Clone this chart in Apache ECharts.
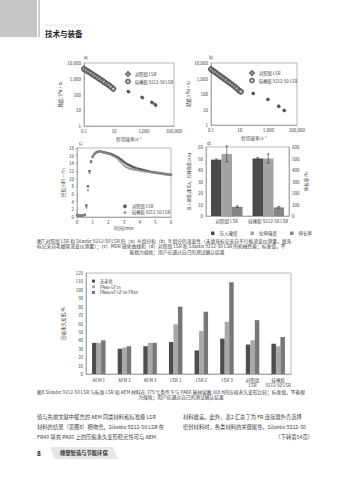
<!DOCTYPE html>
<html><head><meta charset="utf-8">
<script src="https://cdn.jsdelivr.net/npm/echarts@6/dist/echarts.min.js"></script>
<style>html,body{margin:0;padding:0;background:#fff}#c{width:356px;height:480px}</style>
</head><body><div id="c"></div><script>
// ---------- Fig 7a : viscosity, component A ----------
const aLowShear = [0.1,0.14,0.2,0.28,0.4,0.56,0.8,1.1,1.6,2.2,3.2,4.5,6.3,9];
const aLowCtrl  = [4300,3500,2800,2300,1850,1500,1200,980,780,620,500,400,310,240];
const aLowSil   = [4100,3400,2750,2250,1800,1450,1180,950,760,610,480,390,300,230];
const aHighShearCtrl = [85,700,3200,5400];
const aHighCtrl = [160,70,33,24];
const aHighShearSil = [95,800,3600,6000];
const aHighSil = [150,62,30,21];
// ---------- Fig 7b : viscosity, component B ----------
const bLowShear = [0.1,0.14,0.2,0.28,0.4,0.56,0.8,1.1,1.6,2.2,3.2,4.5,6.3,9,12];
const bLowCtrl  = [4000,3200,2500,2000,1600,1250,1000,800,620,500,390,300,230,170,145];
const bLowSil   = [3900,3100,2450,1950,1550,1220,980,780,600,480,380,295,225,165,140];
const bHighShearCtrl = [83,900,5100,12600];
const bHighCtrl = [112,46,17,9];
const bHighShearSil = [90,950,5400,13000];
const bHighSil = [108,44,16,8.6];
// ---------- Fig 7c : MDR cure curve ----------
const cTime = [0,0.1,0.2,0.3,0.4,0.5,0.6,0.7,0.8,0.9,1.0,1.1,1.2,1.3,1.4,1.5,1.6,1.7,1.8,1.9,2.0,2.1,2.2,2.3,2.4,2.5,2.6,2.7,2.8,2.9,3.0,3.1,3.2,3.3,3.4,3.5,3.6,3.7,3.8,3.9,4.0,4.1,4.2,4.3,4.4,4.5,4.6,4.7,4.8,4.9,5.0,5.1,5.2,5.3,5.4,5.5,5.6,5.7,5.8,5.9,6.0];
const cTorqueCtrl = [0.5,0.4,0.4,0.4,0.4,0.6,3.0,8.0,12.0,14.5,15.8,16.4,16.8,17.0,17.1,17.1,17.0,16.9,16.8,16.7,16.6,16.5,16.4,16.2,16.0,15.8,15.6,15.3,15.0,14.7,14.4,14.1,13.8,13.6,13.4,13.2,13.0,12.9,12.7,12.6,12.5,12.4,12.3,12.2,12.1,12.0,11.9,11.8,11.7,11.7,11.6,11.5,11.5,11.4,11.4,11.3,11.2,11.2,11.1,11.1,11.0];
const cTorqueSil  = [0.5,0.5,0.4,0.4,0.4,0.5,2.5,7.0,11.5,14.2,15.6,16.3,16.7,16.9,17.0,17.0,16.9,16.8,16.7,16.6,16.5,16.4,16.2,16.0,15.8,15.5,15.1,14.7,14.3,13.9,13.5,13.2,12.9,12.7,12.6,12.5,12.4,12.3,12.3,12.2,12.1,12.0,12.0,11.9,11.9,11.8,11.8,11.7,11.7,11.6,11.6,11.5,11.5,11.4,11.4,11.3,11.3,11.2,11.2,11.1,11.0];
// ---------- Fig 7d : mechanical properties ----------
const dCats = ['对照组 LSR','硅橡胶 9212-50 LSR'];
const dHardness = [49,50];
const dHardErr = [[48.3,49.7],[49.2,50.8]];
const dElong = [54,50];
const dElongErr = [[47,61],[46,54]];
const dTensile = [8,7.5];
const dTensErr = [[7.2,8.8],[6.8,8.2]];
// ---------- Fig 8 : compression set ----------
const eCats = ['AEM 1','AEM 2','AEM 3','LSR 1','LSR 2','LSR 3','对照组\nLSR','硅橡胶\n9212-50 LSR'];
const eNoAge = [37,30,33,38,28,42,35,36];
const eGF35  = [37,31.5,37,59,51,62,40,33];
const eFR40  = [40,33,37,80,74,109,64,44];
// legend labels
const seriesLabels = {a1:'对照组 LSR', a2:'硅橡胶 9212-50 LSR', b1:'对照组 LSR', b2:'硅橡胶 9212-50 LSR', c1:'对照组 LSR', c2:'硅橡胶 9212-50 LSR'};

const F = '"Noto Sans CJK SC","Noto Sans",sans-serif';
const TXT = '#3a3a3a';
const chart = echarts.init(document.getElementById('c'), null, {renderer:'svg', width:356, height:480});

const axLine = {show:true, lineStyle:{color:'#8a8a8a', width:0.6}};
const tick = {show:true, length:1.5, lineStyle:{color:'#8a8a8a', width:0.5}};
const lbl = (o) => Object.assign({fontSize:4.5, color:TXT, fontFamily:F, margin:3}, o||{});
const nameSt = {fontSize:4.6, color:TXT, fontFamily:F};
function fmtNum(v){ if (v < 1) return String(+v.toPrecision(2)); return Math.round(v).toLocaleString('en-US'); }
const logX = {type:'log', logBase:10, min:0.1, max:100000, axisLine:axLine, axisTick:{show:false}, splitLine:{show:false},
  axisLabel:lbl({formatter:v => (Math.round(Math.log10(v)) % 2 !== 0) ? fmtNum(v) : ''}),
  name:'剪切速率/s⁻¹', nameLocation:'middle', nameGap:11, nameTextStyle:nameSt};
const logY = {type:'log', logBase:10, min:1, max:10000, axisLine:axLine, axisTick:{show:false}, splitLine:{show:false},
  axisLabel:lbl({formatter:v => fmtNum(v)}),
  name:'黏度/(Pa·s)', nameLocation:'middle', nameGap:22, nameRotate:90, nameTextStyle:nameSt};
const gridSt = {show:true, borderColor:'#8a8a8a', borderWidth:0.6, containLabel:false};
const pairs = (xs, ys) => xs.map((x,i)=>[x, ys[i]]);
const hollow = (sym, gi, name, xs, ys) => ({type:'scatter', name, xAxisIndex:gi, yAxisIndex:gi, symbol:sym, symbolSize:4,
  itemStyle:{color:'#555555', borderWidth:0.8}, data:pairs(xs,ys)});
const filled = (sym, gi, xs, ys) => ({type:'scatter', xAxisIndex:gi, yAxisIndex:gi, symbol:sym, symbolSize:3.6,
  itemStyle:{color:'#4a4a4a'}, data:pairs(xs,ys)});

const DBAR = 10.5;
function errRenderer(k, bw){
  return function(p, api){
    const c = api.value(0);
    const lo = api.coord([c, api.value(1)]);
    const hi = api.coord([c, api.value(2)]);
    const x = lo[0] + (k-1)*bw;
    const st = {stroke:'#333', lineWidth:0.6};
    return {type:'group', children:[
      {type:'line', shape:{x1:x,y1:lo[1],x2:x,y2:hi[1]}, style:st},
      {type:'line', shape:{x1:x-1.5,y1:lo[1],x2:x+1.5,y2:lo[1]}, style:st},
      {type:'line', shape:{x1:x-1.5,y1:hi[1],x2:x+1.5,y2:hi[1]}, style:st}]};
  };
}
const errData = (arr) => arr.map((r,i)=>[i, r[0], r[1]]);

const txt = (x,y,t,o) => ({type:'text', x, y, silent:true, style:Object.assign({text:t, fontSize:5, fill:TXT, fontFamily:F, textVerticalAlign:'middle'}, o||{})});
const cap7 = ['图7 对照组 LSR 和 Silastic 9212-50 LSR 的（a）A 组分和（b）B 组分的流变性（未填充标记来自平行板流变仪测量，填充',
  '标记来自毛细管流变仪测量）；（c）MDR 硫化曲线和（d）对照组 LSR 和 Silastic 9212-50 LSR 的机械性能；标准值，不',
  '能视为规格；用户应通过自己的测试确认结果'];
const cap8 = ['图8 Silastic 9212-50 LSR 与标准 LSR 和 AEM 材料在 175 ℃条件下与 PA66 基材接触 168 h的压缩永久变形比较；标准值，不能视',
  '为规格；用户应通过自己的测试确认结果'];
const bodyL = ['值与先前文献中报告的 AEM 同类材料和标准级 LSR','材料的结果（见图8）相吻合。Silastic 9212-50 LSR 在','FR40 填充 PA66 上的压缩永久变形稳定性可与 AEM'];
const bodyR = ['材料媲美。此外，表2 汇总了为 FR 连接器外壳选择','密封材料时，各类材料的关键属性。Silastic 9212-50','（下转第54页）'];
const legTxt = {fontSize:4.3, color:TXT, fontFamily:F};

const option = {
  animation:false,
  backgroundColor:'#fff',
  textStyle:{fontFamily:F},
  grid:[
    Object.assign({left:84, top:63, width:90, height:63}, gridSt),
    Object.assign({left:211, top:63, width:86, height:62}, gridSt),
    Object.assign({left:77, top:148, width:94, height:69}, gridSt),
    Object.assign({left:206, top:147, width:83, height:69}, gridSt),
    Object.assign({left:86, top:273, width:205, height:101}, gridSt)
  ],
  xAxis:[
    Object.assign({gridIndex:0}, logX),
    Object.assign({gridIndex:1}, logX),
    {gridIndex:2, type:'value', min:0, max:6, interval:1, axisLine:axLine, axisTick:tick, splitLine:{show:false}, axisLabel:lbl(),
      name:'时间/min', nameLocation:'middle', nameGap:9, nameTextStyle:nameSt},
    {gridIndex:3, type:'category', data:dCats, axisLine:axLine, axisTick:{show:false}, axisLabel:lbl({interval:0, margin:3})},
    {gridIndex:4, type:'category', data:eCats, axisLine:axLine, axisTick:{show:false}, axisLabel:lbl({interval:0, margin:3, lineHeight:5})}
  ],
  yAxis:[
    Object.assign({gridIndex:0}, logY),
    Object.assign({gridIndex:1}, logY, {nameGap:20}),
    {gridIndex:2, type:'value', min:0, max:18, interval:2, axisLine:axLine, axisTick:tick, splitLine:{show:false}, axisLabel:lbl(),
      name:'扭矩/(dN·m)', nameLocation:'middle', nameGap:10, nameRotate:90, nameTextStyle:nameSt},
    {gridIndex:3, type:'value', min:0, max:60, interval:10, axisLine:axLine, axisTick:{show:false}, splitLine:{show:false}, axisLabel:lbl(),
      name:'压入硬度/邵氏A，拉伸强度/MPa', nameLocation:'middle', nameGap:15, nameRotate:90, nameTextStyle:{fontSize:4, color:TXT, fontFamily:F}},
    {gridIndex:3, type:'value', position:'right', min:0, max:600, interval:100, axisLine:axLine, axisTick:{show:false}, splitLine:{show:false}, axisLabel:lbl(),
      name:'伸长率/%', nameLocation:'middle', nameGap:14, nameRotate:90, nameTextStyle:nameSt},
    {gridIndex:4, type:'value', min:0, max:120, interval:10, axisLine:axLine, axisTick:{show:false}, splitLine:{show:false}, axisLabel:lbl({fontSize:4.3}),
      name:'压缩永久变形/%', nameLocation:'middle', nameGap:16, nameRotate:90, nameTextStyle:nameSt}
  ],
  legend:[
    {data:['a1','a2'], formatter:n => seriesLabels[n], orient:'vertical', left:120, top:66, itemWidth:4, itemHeight:4, itemGap:1.5, textStyle:legTxt},
    {data:['b1','b2'], formatter:n => seriesLabels[n], orient:'vertical', left:244, top:65, itemWidth:4, itemHeight:4, itemGap:1.5, textStyle:legTxt},
    {data:['c1','c2'], formatter:n => seriesLabels[n], orient:'vertical', left:118, top:199, itemWidth:4, itemHeight:4, itemGap:2, textStyle:legTxt},
    {data:['压入硬度','拉伸强度','伸长率'], orient:'horizontal', left:206, top:226, itemWidth:3.5, itemHeight:3.5, itemGap:13, icon:'rect', textStyle:{fontSize:4.5, color:TXT, fontFamily:F}},
    {data:['无老化','PA66-GF35','PA66/6T-GF30-FR40'], orient:'vertical', left:87, top:274, itemWidth:3, itemHeight:3, itemGap:1.5, icon:'rect', textStyle:{fontSize:4.2, color:TXT, fontFamily:F}}
  ],
  series:[
    hollow('emptyDiamond',0,'a1', aLowShear, aLowCtrl),
    hollow('emptyCircle',0,'a2', aLowShear, aLowSil),
    filled('diamond',0, aHighShearCtrl, aHighCtrl),
    filled('circle',0, aHighShearSil, aHighSil),
    hollow('emptyDiamond',1,'b1', bLowShear, bLowCtrl),
    hollow('emptyCircle',1,'b2', bLowShear, bLowSil),
    filled('diamond',1, bHighShearCtrl, bHighCtrl),
    filled('circle',1, bHighShearSil, bHighSil),
    {type:'scatter', name:'c1', xAxisIndex:2, yAxisIndex:2, symbol:'circle', symbolSize:2.6, itemStyle:{color:'#3f3f3f'}, data:pairs(cTime, cTorqueCtrl)},
    {type:'scatter', name:'c2', xAxisIndex:2, yAxisIndex:2, symbol:'diamond', symbolSize:3, itemStyle:{color:'#8c8c8c'}, data:pairs(cTime, cTorqueSil)},
    {type:'bar', name:'压入硬度', xAxisIndex:3, yAxisIndex:3, barWidth:DBAR, barGap:'0%', itemStyle:{color:'#4a4a4a'}, data:dHardness},
    {type:'bar', name:'拉伸强度', xAxisIndex:3, yAxisIndex:3, barWidth:DBAR, barGap:'0%', itemStyle:{color:'#a3a3a3'}, data:dElong},
    {type:'bar', name:'伸长率', xAxisIndex:3, yAxisIndex:3, barWidth:DBAR, barGap:'0%', itemStyle:{color:'#858585'}, data:dTensile},
    {type:'custom', xAxisIndex:3, yAxisIndex:3, renderItem:errRenderer(0, DBAR), data:errData(dHardErr), z:10, silent:true},
    {type:'custom', xAxisIndex:3, yAxisIndex:3, renderItem:errRenderer(1, DBAR), data:errData(dElongErr), z:10, silent:true},
    {type:'custom', xAxisIndex:3, yAxisIndex:3, renderItem:errRenderer(2, DBAR), data:errData(dTensErr), z:10, silent:true},
    {type:'bar', name:'无老化', xAxisIndex:4, yAxisIndex:5, barWidth:4.5, barGap:'0%', itemStyle:{color:'#4d4d4d'}, data:eNoAge},
    {type:'bar', name:'PA66-GF35', xAxisIndex:4, yAxisIndex:5, barWidth:4.5, barGap:'0%', itemStyle:{color:'#a8a8a8'}, data:eGF35},
    {type:'bar', name:'PA66/6T-GF30-FR40', xAxisIndex:4, yAxisIndex:5, barWidth:4.5, barGap:'0%', itemStyle:{color:'#777'}, data:eFR40}
  ],
  graphic:[
    {type:'rect', shape:{x:0,y:0,width:37,height:37}, style:{fill:'#c6c6c6'}, silent:true},
    {type:'rect', shape:{x:38.5,y:0,width:1.2,height:37}, style:{fill:'#b0b0b0'}, silent:true},
    txt(45,26,'TECHNOLOGY & EQUIPMENT',{fontSize:3, fill:'#dcdcdc'}),
    txt(45,33.5,'技术与装备',{fontSize:7.5, fontWeight:'bold', fill:'#222'}),
    txt(84,57,'a)',{fontSize:4.5}),
    txt(209,57,'b)',{fontSize:4.5}),
    txt(79,143,'c)',{fontSize:4.5}),
    txt(207,143,'d)',{fontSize:4.5}),
    txt(37,240,cap7[0],{fontSize:4.75}),
    txt(37,245.5,cap7[1],{fontSize:4.75}),
    txt(177,251,cap7[2],{fontSize:4.75, textAlign:'center'}),
    txt(37,391,cap8[0],{fontSize:4.75}),
    txt(181,396.7,cap8[1],{fontSize:4.75, textAlign:'center'}),
    txt(37,416.7,bodyL[0],{fontSize:5.3}),
    txt(37,426.7,bodyL[1],{fontSize:5.3}),
    txt(37,436.7,bodyL[2],{fontSize:5.3}),
    txt(183,416.7,bodyR[0],{fontSize:5.3}),
    txt(183,426.7,bodyR[1],{fontSize:5.3}),
    txt(313,436.7,bodyR[2],{fontSize:5.3, textAlign:'right'}),
    {type:'polygon', shape:{points:[[50,447],[113,447],[118,459],[55,459]]}, style:{fill:'#e6e6e6'}, silent:true},
    txt(37,453,'8',{fontSize:6.5, fontWeight:'bold', fill:'#222'}),
    txt(60,453,'橡塑智造与节能环保',{fontSize:5.3, fontWeight:'bold', fill:'#333'})
  ]
};
chart.setOption(option);
</script></body></html>
